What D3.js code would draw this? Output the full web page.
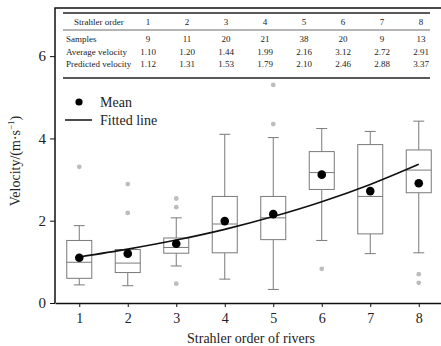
<!DOCTYPE html>
<html>
<head>
<meta charset="utf-8">
<script src="https://cdn.jsdelivr.net/npm/d3@7"></script>
<style>
  body { margin: 0; background: #fff; }
  svg { display: block; font-family: "Liberation Serif", "DejaVu Serif", serif; }
</style>
</head>
<body>
<div class="chart"></div>
<script>
/* data */
const orders = [1, 2, 3, 4, 5, 6, 7, 8];
const samples = [9, 11, 20, 21, 38, 20, 9, 13];
const avgVelocity = [1.10, 1.20, 1.44, 1.99, 2.16, 3.12, 2.72, 2.91];
const predVelocity = [1.12, 1.31, 1.53, 1.79, 2.10, 2.46, 2.88, 3.37];
const whiskerLow = [0.44, 0.42, 0.90, 0.58, 0.33, 1.52, 1.20, 1.22];
const q1 = [0.60, 0.74, 1.21, 1.22, 1.54, 2.76, 1.68, 2.68];
const median = [0.99, 0.97, 1.35, 1.92, 2.07, 3.17, 2.59, 3.23];
const q3 = [1.52, 1.30, 1.58, 2.59, 2.59, 3.68, 3.85, 3.72];
const whiskerHigh = [1.88, 1.30, 2.07, 4.10, 4.02, 4.24, 4.17, 4.42];
const outliers = [
    [1, 3.31], [2, 2.89], [2, 2.19], [3, 2.54], [3, 2.33], [3, 0.47],
    [5, 5.30], [5, 4.35], [6, 0.83], [8, 0.70], [8, 0.49]
];
const yTicks = [0, 2, 4, 6];
const tableRows = [
    ["Samples", samples.map(String)],
    ["Average velocity", avgVelocity.map(d => d.toFixed(2))],
    ["Predicted velocity", predVelocity.map(d => d.toFixed(2))]
];

/* canvas */
const svg_width = 441;
const svg_height = 346;
const svg = d3.select(".chart").append("svg")
    .attr("width", svg_width).attr("height", svg_height);

/* scales */
const xScale = d3.scaleLinear().domain([0.5, 8.5]).range([55, 443]);
const yScale = d3.scaleLinear().domain([0, 7.17]).range([303, 8]);
const boxW = 25;
const capW = 11;

/* frame */
svg.append("path")
    .attr("d", `M${xScale(0.5)},${yScale(0)}V${yScale(7.17)}H${xScale(8.5)}`)
    .attr("fill", "none").attr("stroke", "#111").attr("stroke-width", 1.5);

/* axes */
const xAxis = d3.axisBottom(xScale).tickValues(orders).tickSize(4).tickSizeOuter(0);
svg.append("g").attr("class", "x axis")
    .attr("transform", `translate(0,${yScale(0)})`)
    .call(xAxis)
    .call(g => g.select(".domain").attr("stroke", "#111").attr("stroke-width", 1.5))
    .call(g => g.selectAll(".tick line").attr("stroke", "#111"))
    .call(g => g.selectAll("text").attr("font-size", 14).attr("fill", "#222")
        .attr("font-family", "Liberation Serif").attr("dy", "0.95em"));

const yAxis = d3.axisLeft(yScale).tickValues(yTicks).tickSize(5).tickSizeOuter(0);
svg.append("g").attr("class", "y axis")
    .attr("transform", `translate(${xScale(0.5)},0)`)
    .call(yAxis)
    .call(g => g.select(".domain").remove())
    .call(g => g.selectAll(".tick line").attr("stroke", "#111"))
    .call(g => g.selectAll("text").attr("font-size", 15).attr("fill", "#222")
        .attr("font-family", "Liberation Serif").attr("x", -9));

/* axis titles */
svg.append("text")
    .attr("x", xScale(4.5) + 2).attr("y", 343)
    .attr("text-anchor", "middle").attr("font-size", 14).attr("fill", "#222")
    .text("Strahler order of rivers");

const yTitle = svg.append("text")
    .attr("transform", `translate(20,${161}) rotate(-90)`)
    .attr("text-anchor", "middle").attr("font-size", 14).attr("fill", "#222");
yTitle.append("tspan").text("Velocity/(m·s");
yTitle.append("tspan").attr("font-size", 9).attr("dy", -6).text("−1");
yTitle.append("tspan").attr("dy", 6).text(")");

/* outliers */
svg.append("g").selectAll("circle")
    .data(outliers).join("circle")
    .attr("cx", d => xScale(d[0])).attr("cy", d => yScale(d[1]))
    .attr("r", 2.4).attr("fill", "#bdbdbd");

/* boxes */
const boxGroup = svg.append("g").attr("class", "boxes")
    .attr("stroke", "#7a7a7a").attr("stroke-width", 1).attr("fill", "none");
const boxes = boxGroup.selectAll("g").data(orders).join("g");
boxes.append("line")
    .attr("x1", d => xScale(d)).attr("x2", d => xScale(d))
    .attr("y1", (d, i) => yScale(whiskerHigh[i])).attr("y2", (d, i) => yScale(q3[i]));
boxes.append("line")
    .attr("x1", d => xScale(d)).attr("x2", d => xScale(d))
    .attr("y1", (d, i) => yScale(q1[i])).attr("y2", (d, i) => yScale(whiskerLow[i]));
boxes.append("line")
    .attr("x1", d => xScale(d) - capW / 2).attr("x2", d => xScale(d) + capW / 2)
    .attr("y1", (d, i) => yScale(whiskerHigh[i])).attr("y2", (d, i) => yScale(whiskerHigh[i]));
boxes.append("line")
    .attr("x1", d => xScale(d) - capW / 2).attr("x2", d => xScale(d) + capW / 2)
    .attr("y1", (d, i) => yScale(whiskerLow[i])).attr("y2", (d, i) => yScale(whiskerLow[i]));
boxes.append("rect")
    .attr("x", d => xScale(d) - boxW / 2).attr("width", boxW)
    .attr("y", (d, i) => yScale(q3[i]))
    .attr("height", (d, i) => yScale(q1[i]) - yScale(q3[i]))
    .attr("fill", "#fff");
boxes.append("line")
    .attr("x1", d => xScale(d) - boxW / 2).attr("x2", d => xScale(d) + boxW / 2)
    .attr("y1", (d, i) => yScale(median[i])).attr("y2", (d, i) => yScale(median[i]));

/* fitted line */
const lineGen = d3.line()
    .x((d, i) => xScale(orders[i]))
    .y(d => yScale(d))
    .curve(d3.curveMonotoneX);
svg.append("path")
    .attr("d", lineGen(predVelocity))
    .attr("fill", "none").attr("stroke", "#111").attr("stroke-width", 1.6);

/* means */
svg.append("g").selectAll("circle")
    .data(avgVelocity).join("circle")
    .attr("cx", (d, i) => xScale(orders[i])).attr("cy", d => yScale(d))
    .attr("r", 4.3).attr("fill", "#000");

/* legend */
const legend = svg.append("g").attr("font-size", 14).attr("fill", "#222");
legend.append("circle").attr("cx", 79).attr("cy", 102).attr("r", 3.6).attr("fill", "#000");
legend.append("text").attr("x", 100).attr("y", 107).text("Mean");
legend.append("line").attr("x1", 65).attr("x2", 92).attr("y1", 120).attr("y2", 120)
    .attr("stroke", "#111").attr("stroke-width", 1.5);
legend.append("text").attr("x", 100).attr("y", 125).text("Fitted line");

/* table */
const colX = d3.scaleLinear().domain([1, 8]).range([148, 421]);
const table = svg.append("g").attr("font-size", 9).attr("fill", "#222");
table.append("line").attr("x1", 63).attr("x2", 430).attr("y1", 13).attr("y2", 13)
    .attr("stroke", "#222").attr("stroke-width", 1.3);
table.append("line").attr("x1", 63).attr("x2", 430).attr("y1", 30).attr("y2", 30)
    .attr("stroke", "#444").attr("stroke-width", 0.8);
table.append("line").attr("x1", 63).attr("x2", 430).attr("y1", 78).attr("y2", 78)
    .attr("stroke", "#222").attr("stroke-width", 1.3);
table.append("text").attr("x", 74).attr("y", 25).text("Strahler order");
table.selectAll(".head").data(orders).join("text").attr("class", "head")
    .attr("x", d => colX(d)).attr("y", 25).attr("text-anchor", "middle").text(d => d);
tableRows.forEach((row, r) => {
    const y = 42 + r * 12.5;
    table.append("text").attr("x", 66).attr("y", y).text(row[0]);
    table.selectAll(".row" + r).data(row[1]).join("text").attr("class", "row" + r)
        .attr("x", (d, i) => colX(orders[i])).attr("y", y)
        .attr("text-anchor", "middle").text(d => d);
});
</script>
</body>
</html>
